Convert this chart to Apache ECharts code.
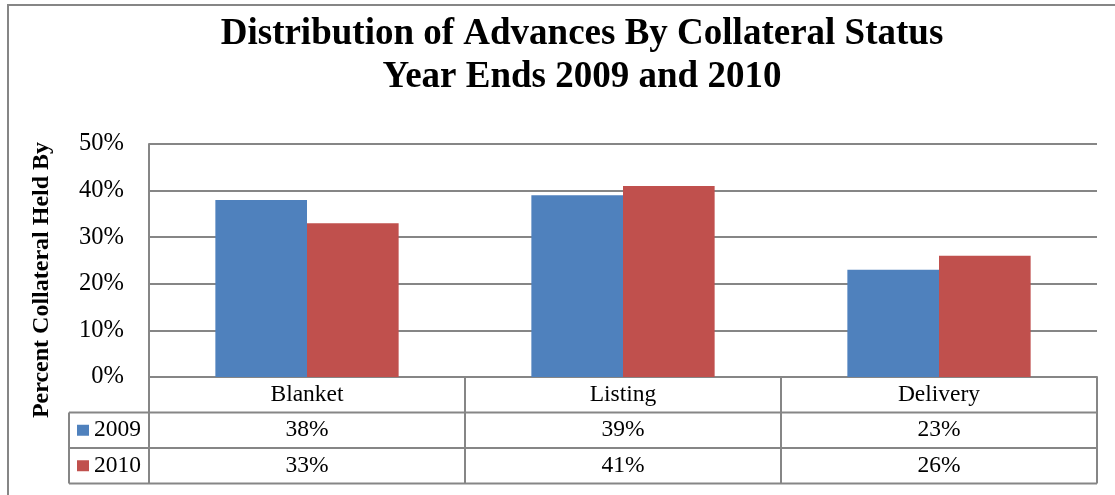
<!DOCTYPE html>
<html>
<head>
<meta charset="utf-8">
<script src="https://cdn.jsdelivr.net/npm/echarts@6/dist/echarts.min.js"></script>
<style>
  html, body { margin: 0; padding: 0; background: #fff; }
  #chart { width: 1115px; height: 495px; }
</style>
</head>
<body>
<div id="chart"></div>
<script>
const categories = ['Blanket', 'Listing', 'Delivery']
const years = ['2009', '2010']
const values2009 = [0.38, 0.39, 0.23]
const values2010 = [0.33, 0.41, 0.26]
const yTicks = [0, 0.1, 0.2, 0.3, 0.4, 0.5]

const FONT = "'Liberation Serif', 'Times New Roman', serif"
const GRAY = '#868686'
const pct = v => Math.round(v * 100) + '%'

// plot + table geometry
const plotLeft = 149
const plotRight = 1097
const plotTop = 144
const plotBottom = 377
const rowH = 35.5
const tableLeft = 69

const chart = echarts.init(document.getElementById('chart'))

const tableLines = []
for (let r = 1; r <= 3; r++) {
  const y = plotBottom + rowH * r
  tableLines.push({
    type: 'line',
    shape: { x1: tableLeft, y1: y, x2: plotRight, y2: y },
    style: { stroke: GRAY, lineWidth: 2 }
  })
}
tableLines.push({
  type: 'line',
  shape: { x1: tableLeft, y1: plotBottom + rowH, x2: tableLeft, y2: plotBottom + rowH * 3 },
  style: { stroke: GRAY, lineWidth: 2 }
})

const option = {
  animation: false,
  color: ['#4F81BD', '#C0504D'],
  title: {
    text: 'Distribution of Advances By Collateral Status\nYear Ends 2009 and 2010',
    left: 577,
    top: 8,
    textAlign: 'center',
    textStyle: {
      fontFamily: FONT,
      fontSize: 37,
      fontWeight: 'bold',
      color: '#000',
      lineHeight: 43
    }
  },
  legend: {
    data: years,
    orient: 'vertical',
    left: 77,
    top: plotBottom + rowH + rowH / 2 - 12,
    padding: 0,
    itemGap: rowH - 24,
    itemWidth: 12,
    itemHeight: 11,
    icon: 'rect',
    textStyle: { fontFamily: FONT, fontSize: 23.5, color: '#000', lineHeight: 24 }
  },
  grid: {
    left: plotLeft,
    right: 1115 - plotRight,
    top: plotTop,
    bottom: 495 - plotBottom
  },
  xAxis: {
    type: 'category',
    data: categories,
    axisLine: { lineStyle: { color: GRAY, width: 2 } },
    axisTick: {
      show: true,
      interval: 0,
      alignWithLabel: false,
      length: rowH * 3,
      lineStyle: { color: GRAY, width: 2 }
    },
    axisLabel: {
      interval: 0,
      margin: 0,
      formatter: (val, i) => `{c|${val}}\n{c|${pct(values2009[i])}}\n{c|${pct(values2010[i])}}`,
      rich: {
        c: { fontFamily: FONT, fontSize: 23.5, color: '#000', lineHeight: rowH, align: 'center' }
      }
    }
  },
  yAxis: {
    type: 'value',
    min: yTicks[0],
    max: yTicks[yTicks.length - 1],
    interval: 0.1,
    axisLine: { show: true, lineStyle: { color: GRAY, width: 2 } },
    axisTick: { show: false },
    splitLine: { lineStyle: { color: GRAY, width: 2 } },
    axisLabel: {
      margin: 25,
      formatter: pct,
      fontFamily: FONT,
      fontSize: 24.5,
      color: '#000'
    }
  },
  series: [
    {
      name: years[0],
      type: 'bar',
      data: values2009,
      barGap: '0%',
      barCategoryGap: '42%'
    },
    {
      name: years[1],
      type: 'bar',
      data: values2010,
      barGap: '0%',
      barCategoryGap: '42%'
    }
  ],
  graphic: [
    {
      type: 'rect',
      shape: { x: 8, y: 5, width: 1130, height: 520 },
      style: { fill: 'none', stroke: GRAY, lineWidth: 2 },
      silent: true
    },
    {
      type: 'text',
      x: 42,
      y: 280,
      rotation: Math.PI / 2,
      style: {
        text: 'Percent Collateral Held By',
        fontFamily: FONT,
        fontSize: 24,
        fontWeight: 'bold',
        fill: '#000',
        align: 'center',
        verticalAlign: 'middle'
      }
    },
    ...tableLines
  ]
}

chart.setOption(option)
window.addEventListener('resize', () => chart.resize())
</script>
</body>
</html>
